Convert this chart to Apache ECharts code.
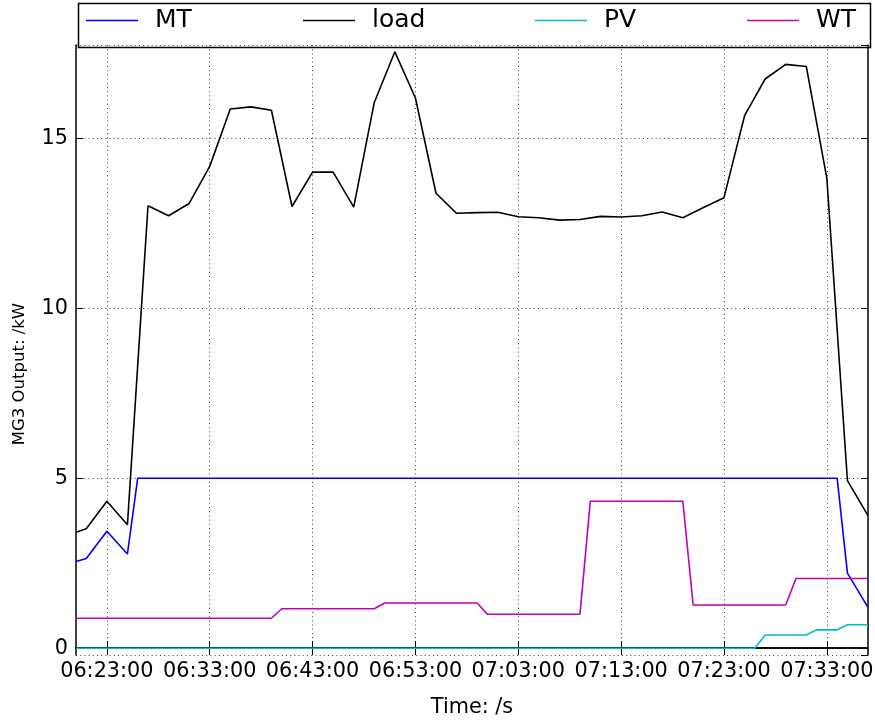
<!DOCTYPE html>
<html>
<head>
<meta charset="utf-8">
<script src="https://cdn.jsdelivr.net/npm/echarts@6/dist/echarts.min.js"></script>
<style>
  html, body { margin: 0; padding: 0; background: #fff; }
  #chart { width: 875px; height: 720px; }
</style>
</head>
<body>
<div id="chart"></div>
<script>
// One category per minute, 06:20 .. 07:37
function fmt(m) {
  const h = Math.floor(m / 60), mm = m % 60;
  return String(h).padStart(2, '0') + ':' + String(mm).padStart(2, '0');
}
const minuteAxis = [];
for (let m = 6 * 60 + 20; m <= 7 * 60 + 37; m++) minuteAxis.push(fmt(m));

// Labelled ticks on the time axis
const timeTicks = ['06:23', '06:33', '06:43', '06:53', '07:03', '07:13', '07:23', '07:33'];

// Load demand (kW)
const loadTime = ['06:20', '06:21', '06:23', '06:25', '06:27', '06:29', '06:31', '06:33', '06:35', '06:37',
                  '06:39', '06:41', '06:43', '06:45', '06:47', '06:49', '06:51', '06:53', '06:55', '06:57',
                  '06:59', '07:01', '07:03', '07:05', '07:07', '07:09', '07:11', '07:13', '07:15', '07:17',
                  '07:19', '07:21', '07:23', '07:25', '07:27', '07:29', '07:31', '07:33', '07:35', '07:37'];
const loadKw   = [3.41, 3.51, 4.32, 3.63, 13.01, 12.72, 13.08, 14.17, 15.86, 15.92,
                  15.82, 12.99, 14.00, 14.00, 12.97, 16.05, 17.54, 16.18, 13.38, 12.79,
                  12.81, 12.82, 12.69, 12.66, 12.59, 12.61, 12.70, 12.68, 12.72, 12.83,
                  12.66, 12.96, 13.25, 15.66, 16.74, 17.17, 17.11, 13.82, 4.93, 3.90];

// Micro turbine output (kW)
const mtTime = ['06:20', '06:21', '06:23', '06:25', '06:26', '07:34', '07:35', '07:37'];
const mtKw   = [2.55, 2.64, 3.44, 2.77, 5.0, 5.0, 2.21, 1.20];

// Photovoltaic output (kW)
const pvTime = ['06:20', '07:26', '07:27', '07:31', '07:32', '07:34', '07:35', '07:37'];
const pvKw   = [0, 0, 0.39, 0.39, 0.54, 0.54, 0.69, 0.69];

// Wind turbine output (kW)
const wtTime = ['06:20', '06:39', '06:40', '06:49', '06:50', '06:59', '07:00', '07:09', '07:10',
                '07:19', '07:20', '07:29', '07:30', '07:37'];
const wtKw   = [0.88, 0.88, 1.16, 1.16, 1.33, 1.33, 1.00, 1.00, 4.32,
                4.32, 1.27, 1.27, 2.05, 2.05];

const pairs = (t, v) => t.map((x, i) => [x, v[i]]);
const isTick = (i, v) => timeTicks.indexOf(v) >= 0;

const FONT = 'DejaVu Sans';
const gridDots = { color: 'rgba(0,0,0,0.75)', width: 1, type: [1, 3.2] };

const yMin = -0.2, yMax = 17.74;

const chart = echarts.init(document.getElementById('chart'), null, { renderer: 'canvas' });

function lineSeries(name, data, color, z) {
  return {
    name, type: 'line', data, symbol: 'none', showSymbol: false, animation: false,
    lineStyle: { color, width: 1.6 }, itemStyle: { color }, z,
    emphasis: { disabled: true }
  };
}

function legendFor(name, left) {
  return {
    data: [{ name, icon: 'rect' }], left, top: 8, padding: 0, itemWidth: 52, itemHeight: 1.6,
    selectedMode: false,
    textStyle: { fontFamily: FONT, fontSize: 25, color: '#000', padding: [0, 0, 0, 12] }
  };
}

chart.setOption({
  backgroundColor: '#fff',
  animation: false,
  textStyle: { fontFamily: FONT },
  grid: { left: 76, right: 7, top: 45, bottom: 65, containLabel: false, outerBoundsMode: 'none' },
  legend: [
    legendFor('MT', 86),
    legendFor('load', 303),
    legendFor('PV', 535),
    legendFor('WT', 747)
  ],
  graphic: [{
    type: 'rect', left: 76, top: 1, z: 100,
    shape: { width: 792, height: 44 },
    style: { fill: 'none', stroke: '#000', lineWidth: 1.5 }
  }],
  xAxis: [{
    type: 'category', data: minuteAxis, boundaryGap: false, position: 'bottom',
    axisLine: { lineStyle: { color: '#000', width: 1.5 } },
    axisTick: { inside: true, length: 7, interval: isTick, lineStyle: { color: '#000', width: 1 } },
    axisLabel: {
      interval: isTick, color: '#000', fontSize: 20.8, fontFamily: FONT, margin: 6,
      formatter: v => v + ':00'
    },
    splitLine: { show: true, interval: isTick, lineStyle: gridDots },
    name: 'Time: /s', nameLocation: 'middle', nameGap: 42,
    nameTextStyle: { color: '#000', fontSize: 20.8, fontFamily: FONT }
  }, {
    type: 'category', data: minuteAxis, boundaryGap: false, position: 'top',
    axisLine: { lineStyle: { color: '#000', width: 1.5 } },
    axisTick: { inside: true, length: 7, interval: isTick, lineStyle: { color: '#000', width: 1 } },
    axisLabel: { show: false }, splitLine: { show: false }
  }],
  yAxis: [{
    type: 'value', min: yMin, max: yMax, minInterval: 5, maxInterval: 5, position: 'left',
    axisLine: { show: true, lineStyle: { color: '#000', width: 1.5 } },
    axisTick: { show: true, inside: true, length: 7, lineStyle: { color: '#000', width: 1 } },
    axisLabel: { color: '#000', fontSize: 20.8, fontFamily: FONT, margin: 8,
                 showMinLabel: false, showMaxLabel: false },
    splitLine: { show: true, lineStyle: gridDots },
    name: 'MG3 Output: /kW', nameLocation: 'middle', nameGap: 48, nameRotate: 90,
    nameTextStyle: { color: '#000', fontSize: 16.5, fontFamily: FONT, padding: [0, 48, 0, 0] }
  }, {
    type: 'value', min: yMin, max: yMax, minInterval: 5, maxInterval: 5, position: 'right',
    axisLine: { show: true, lineStyle: { color: '#000', width: 1.5 } },
    axisTick: { show: true, inside: true, length: 7, lineStyle: { color: '#000', width: 1 } },
    axisLabel: { show: false }, splitLine: { show: false }
  }],
  series: [
    lineSeries('MT', pairs(mtTime, mtKw), '#0000ff', 2),
    lineSeries('load', pairs(loadTime, loadKw), '#000000', 3),
    lineSeries('PV', pairs(pvTime, pvKw), '#00bfbf', 4),
    lineSeries('WT', pairs(wtTime, wtKw), '#bf00bf', 5)
  ]
});
</script>
</body>
</html>
